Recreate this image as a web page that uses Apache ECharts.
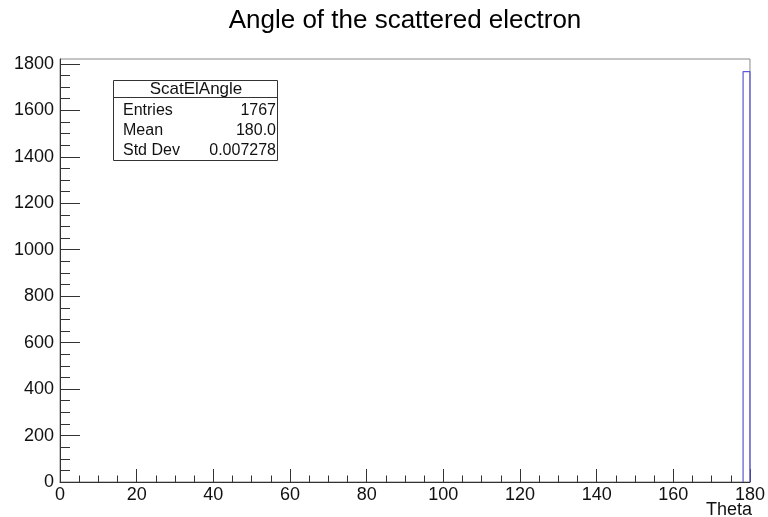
<!DOCTYPE html>
<html>
<head>
<meta charset="utf-8">
<title>Angle of the scattered electron</title>
<script src="https://cdn.jsdelivr.net/npm/echarts@6/dist/echarts.min.js"></script>
<style>
  html, body { margin: 0; padding: 0; background: #ffffff; }
  #chart { width: 768px; height: 517px; }
</style>
</head>
<body>
<div id="chart"></div>
<script>
// Histogram "ScatElAngle": 100 bins over [0, 180] degrees
const histName = 'ScatElAngle';
const histTitle = 'Angle of the scattered electron';
const xTitle = 'Theta';
const histRange = [0, 180];
const binCount = 100;
// only non-empty bins are listed (bin index -> content)
const filledBins = [99];
const binContents = [1767];

// statistics box entries
const statLabels = ['Entries', 'Mean', 'Std Dev'];
const statValues = ['1767', '180.0', '0.007278'];

// axis ticks
const xTicks = [0, 20, 40, 60, 80, 100, 120, 140, 160, 180];
const yTicks = [0, 200, 400, 600, 800, 1000, 1200, 1400, 1600, 1800];
const xMinorStep = 5;
const yMinorStep = 50;
const yAxisMax = 1821;

const FONT = '"Liberation Sans", Arial, Helvetica, sans-serif';
const AXIS_COLOR = '#333333';
const TEXT_COLOR = '#111111';

function minorValues(max, step) {
  const out = [];
  for (let v = 0; v <= max + 1e-9; v += step) out.push(+v.toFixed(6));
  return out;
}

// Histogram outline (step drawing) from the bin contents
const binWidth = (histRange[1] - histRange[0]) / binCount;
const outline = [];
filledBins.forEach(function (b, i) {
  const lo = +(histRange[0] + b * binWidth).toFixed(6);
  const hi = +(histRange[0] + (b + 1) * binWidth).toFixed(6);
  const c = binContents[i];
  outline.push([lo, 0], [lo, c], [hi, c], [hi, 0]);
});

const chart = echarts.init(document.getElementById('chart'), null, { renderer: 'canvas' });

const option = {
  backgroundColor: '#ffffff',
  animation: false,
  grid: { show: true, borderColor: '#8a8a8a', borderWidth: 1, containLabel: false,
          left: 60, top: 59, right: 16, bottom: 35 },
  xAxis: [
    {
      type: 'value', position: 'bottom', min: histRange[0], max: histRange[1],
      axisLine: { show: true, lineStyle: { color: AXIS_COLOR, width: 1 } },
      axisTick: { show: true, inside: true, length: 13, customValues: xTicks, lineStyle: { color: AXIS_COLOR } },
      axisLabel: { show: true, customValues: xTicks, margin: 4, fontSize: 18, fontFamily: FONT, color: TEXT_COLOR,
                   formatter: function (v) { return String(v); } },
      splitLine: { show: false }
    },
    {
      type: 'value', position: 'bottom', offset: 0, min: histRange[0], max: histRange[1],
      axisLine: { show: false },
      axisTick: { show: true, inside: true, length: 6.5, customValues: minorValues(histRange[1], xMinorStep), lineStyle: { color: AXIS_COLOR } },
      axisLabel: { show: false },
      splitLine: { show: false }
    }
  ],
  yAxis: [
    {
      type: 'value', position: 'left', min: 0, max: yAxisMax,
      axisLine: { show: true, lineStyle: { color: AXIS_COLOR, width: 1 } },
      axisTick: { show: true, inside: true, length: 20, customValues: yTicks, lineStyle: { color: AXIS_COLOR } },
      axisLabel: { show: true, customValues: yTicks, margin: 6, fontSize: 18, fontFamily: FONT, color: TEXT_COLOR,
                   formatter: function (v) { return String(v); } },
      splitLine: { show: false }
    },
    {
      type: 'value', position: 'left', offset: 0, min: 0, max: yAxisMax,
      axisLine: { show: false },
      axisTick: { show: true, inside: true, length: 10, customValues: minorValues(1800, yMinorStep), lineStyle: { color: AXIS_COLOR } },
      axisLabel: { show: false },
      splitLine: { show: false }
    }
  ],
  series: [
    {
      name: histName,
      type: 'line',
      xAxisIndex: 0,
      yAxisIndex: 0,
      data: outline,
      showSymbol: false,
      symbol: 'none',
      clip: false,
      lineStyle: { color: '#5a5ad8', width: 1.2 },
      silent: true
    }
  ],
  graphic: [
    {
      type: 'text', x: 405, y: 21,
      style: { text: histTitle, font: '26px ' + FONT, fill: '#000000', textAlign: 'center', textVerticalAlign: 'middle' }
    },
    {
      type: 'text', x: 752, y: 510,
      style: { text: xTitle, font: '18px ' + FONT, fill: TEXT_COLOR, textAlign: 'right', textVerticalAlign: 'middle' }
    },
    {
      type: 'group',
      children: [
        { type: 'rect', shape: { x: 113.5, y: 80.5, width: 164, height: 80 }, style: { fill: '#ffffff', stroke: '#333333', lineWidth: 1 } },
        { type: 'line', shape: { x1: 113.5, y1: 97.5, x2: 277.5, y2: 97.5 }, style: { stroke: '#333333', lineWidth: 1 } },
        { type: 'text', x: 196, y: 89, style: { text: histName, font: '17px ' + FONT, fill: TEXT_COLOR, textAlign: 'center', textVerticalAlign: 'middle' } }
      ].concat(statLabels.map(function (lab, i) {
        return { type: 'text', x: 123, y: 110.5 + i * 20, style: { text: lab, font: '16px ' + FONT, fill: TEXT_COLOR, textAlign: 'left', textVerticalAlign: 'middle' } };
      })).concat(statValues.map(function (val, i) {
        return { type: 'text', x: 276, y: 110.5 + i * 20, style: { text: val, font: '16px ' + FONT, fill: TEXT_COLOR, textAlign: 'right', textVerticalAlign: 'middle' } };
      }))
    }
  ]
};

chart.setOption(option);
</script>
</body>
</html>
